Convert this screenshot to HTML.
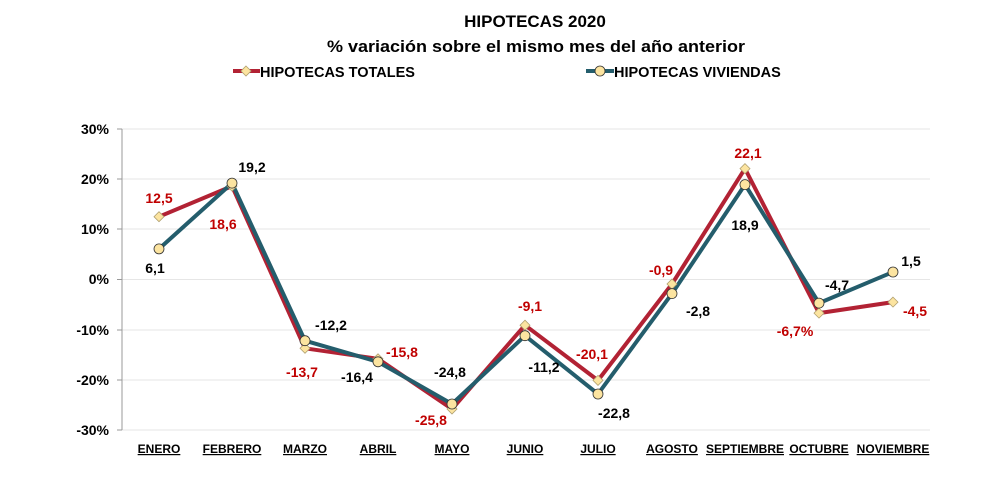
<!DOCTYPE html>
<html><head><meta charset="utf-8"><style>
html,body{margin:0;padding:0;background:#fff;}
svg{display:block;font-family:"Liberation Sans",Arial,sans-serif;font-weight:bold;}
</style></head><body>
<svg width="1000" height="482" viewBox="0 0 1000 482">
<text x="535" y="27" text-anchor="middle" font-size="17">HIPOTECAS 2020</text>
<text x="536" y="52" text-anchor="middle" font-size="17" textLength="418" lengthAdjust="spacingAndGlyphs">% variación sobre el mismo mes del año anterior</text>
<line x1="233" y1="71" x2="260" y2="71" stroke="#b22234" stroke-width="4"/>
<polygon points="246,66 251,71 246,76 241,71" fill="#fce4a0" stroke="#b0a070" stroke-width="0.8"/>
<text x="260" y="77" font-size="14.5">HIPOTECAS TOTALES</text>
<line x1="586" y1="71" x2="614" y2="71" stroke="#245d6c" stroke-width="4"/>
<circle cx="600" cy="71" r="5" fill="#fce4a0" stroke="#333" stroke-width="0.8"/>
<text x="614" y="77" font-size="14.5">HIPOTECAS VIVIENDAS</text>
<g stroke="#e6e6e6" stroke-width="1">
<line x1="122" y1="129" x2="930" y2="129"/><line x1="122" y1="179" x2="930" y2="179"/>
<line x1="122" y1="229" x2="930" y2="229"/><line x1="122" y1="279.5" x2="930" y2="279.5"/>
<line x1="122" y1="330" x2="930" y2="330"/><line x1="122" y1="380" x2="930" y2="380"/>
<line x1="122" y1="430" x2="930" y2="430"/>
</g>
<g stroke="#999" stroke-width="1">
<line x1="122" y1="129" x2="122" y2="430"/>
<line x1="117" y1="129" x2="122" y2="129"/><line x1="117" y1="179" x2="122" y2="179"/>
<line x1="117" y1="229" x2="122" y2="229"/><line x1="117" y1="279.5" x2="122" y2="279.5"/>
<line x1="117" y1="330" x2="122" y2="330"/><line x1="117" y1="380" x2="122" y2="380"/>
<line x1="117" y1="430" x2="122" y2="430"/>
</g>
<g font-size="14" text-anchor="end">
<text x="109" y="134">30%</text><text x="109" y="184">20%</text><text x="109" y="234">10%</text>
<text x="109" y="284">0%</text><text x="109" y="335">-10%</text><text x="109" y="385">-20%</text><text x="109" y="435">-30%</text>
</g>
<g font-size="12" text-anchor="middle" text-decoration="underline">
<text x="159" y="453">ENERO</text><text x="232" y="453">FEBRERO</text><text x="305" y="453">MARZO</text>
<text x="378" y="453">ABRIL</text><text x="452" y="453">MAYO</text><text x="525" y="453">JUNIO</text>
<text x="598" y="453">JULIO</text><text x="672" y="453">AGOSTO</text><text x="745" y="453">SEPTIEMBRE</text>
<text x="819" y="453">OCTUBRE</text><text x="893" y="453">NOVIEMBRE</text>
</g>
<polyline fill="none" stroke="#b22234" stroke-width="4" stroke-linejoin="round" points="159,216.7 232,186.1 305,348.3 378,358.8 452,409 525,325.2 598,380.4 672,284 745,168.6 819,313.1 893,302.1"/>
<polyline fill="none" stroke="#245d6c" stroke-width="4" stroke-linejoin="round" points="159,248.9 232,183.1 305,340.7 378,361.8 452,404 525,335.7 598,394 672,293.6 745,184.6 819,303.1 893,272"/>
<g fill="#fce4a0" stroke="#b0a070" stroke-width="0.8">
<polygon points="159,211.7 164,216.7 159,221.7 154,216.7"/><polygon points="232,181.1 237,186.1 232,191.1 227,186.1"/>
<polygon points="305,343.3 310,348.3 305,353.3 300,348.3"/><polygon points="378,353.8 383,358.8 378,363.8 373,358.8"/>
<polygon points="452,404 457,409 452,414 447,409"/><polygon points="525,320.2 530,325.2 525,330.2 520,325.2"/>
<polygon points="598,375.4 603,380.4 598,385.4 593,380.4"/><polygon points="672,279 677,284 672,289 667,284"/>
<polygon points="745,163.6 750,168.6 745,173.6 740,168.6"/><polygon points="819,308.1 824,313.1 819,318.1 814,313.1"/>
<polygon points="893,297.1 898,302.1 893,307.1 888,302.1"/>
</g>
<g fill="#fce4a0" stroke="#333" stroke-width="0.8">
<circle cx="159" cy="248.9" r="5"/><circle cx="232" cy="183.1" r="5"/><circle cx="305" cy="340.7" r="5"/>
<circle cx="378" cy="361.8" r="5"/><circle cx="452" cy="404" r="5"/><circle cx="525" cy="335.7" r="5"/>
<circle cx="598" cy="394" r="5"/><circle cx="672" cy="293.6" r="5"/><circle cx="745" cy="184.6" r="5"/>
<circle cx="819" cy="303.1" r="5"/><circle cx="893" cy="272" r="5"/>
</g>
<g font-size="14" fill="#c00000" text-anchor="middle">
<text x="159" y="203">12,5</text><text x="223" y="229">18,6</text><text x="302" y="377">-13,7</text>
<text x="402" y="357">-15,8</text><text x="431" y="425">-25,8</text><text x="530" y="311">-9,1</text>
<text x="592" y="359">-20,1</text><text x="661" y="275">-0,9</text><text x="748" y="158">22,1</text>
<text x="795" y="336">-6,7%</text><text x="915" y="316">-4,5</text>
</g>
<g font-size="14" fill="#000" text-anchor="middle">
<text x="155" y="273">6,1</text><text x="252" y="172">19,2</text><text x="331" y="330">-12,2</text>
<text x="357" y="382">-16,4</text><text x="450" y="377">-24,8</text><text x="544" y="372">-11,2</text>
<text x="614" y="418">-22,8</text><text x="698" y="316">-2,8</text><text x="745" y="230">18,9</text>
<text x="837" y="290">-4,7</text><text x="911" y="266">1,5</text>
</g>
</svg>
</body></html>
